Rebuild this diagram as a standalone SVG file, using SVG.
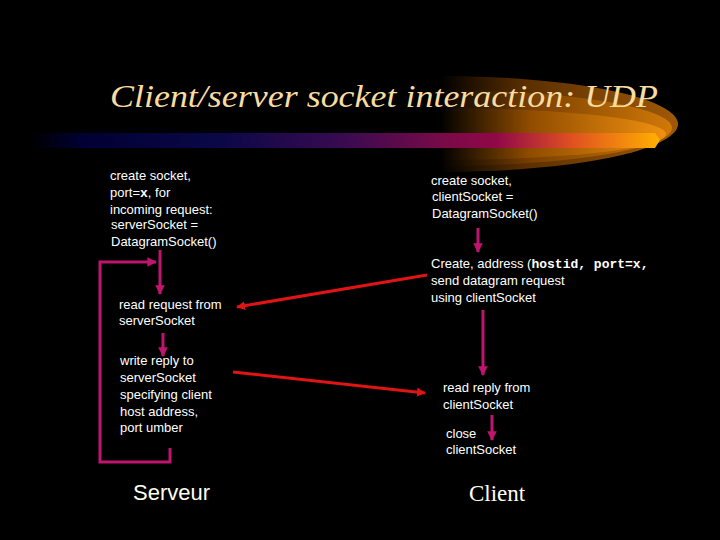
<svg xmlns="http://www.w3.org/2000/svg" width="720" height="540" viewBox="0 0 720 540">
<defs>
<linearGradient id="bar" x1="30" y1="0" x2="660" y2="0" gradientUnits="userSpaceOnUse">
<stop offset="0" stop-color="#000000"/>
<stop offset="0.08" stop-color="#000033"/>
<stop offset="0.3" stop-color="#0a0848"/>
<stop offset="0.5" stop-color="#3a0a50"/>
<stop offset="0.66" stop-color="#7a0a48"/>
<stop offset="0.74" stop-color="#900848"/>
<stop offset="0.86" stop-color="#e05020"/>
<stop offset="1" stop-color="#ffb000"/>
</linearGradient>
<linearGradient id="glow" x1="440" y1="0" x2="680" y2="0" gradientUnits="userSpaceOnUse">
<stop offset="0" stop-color="#000000"/>
<stop offset="0.35" stop-color="#5a2e00"/>
<stop offset="1" stop-color="#a05a08"/>
</linearGradient>
<linearGradient id="glow2" x1="440" y1="0" x2="670" y2="0" gradientUnits="userSpaceOnUse">
<stop offset="0" stop-color="#000000"/>
<stop offset="0.4" stop-color="#7a4000"/>
<stop offset="1" stop-color="#d07808"/>
</linearGradient>
<linearGradient id="glow3" x1="440" y1="0" x2="665" y2="0" gradientUnits="userSpaceOnUse">
<stop offset="0" stop-color="#000000"/>
<stop offset="0.4" stop-color="#904c00"/>
<stop offset="1" stop-color="#f09010"/>
</linearGradient>
<clipPath id="half"><rect x="440" y="0" width="280" height="540"/></clipPath>
<marker id="mh" viewBox="0 0 10 10" refX="9" refY="5" markerWidth="3.2" markerHeight="3.2" orient="auto" markerUnits="strokeWidth">
<path d="M0,0 L10,5 L0,10 z" fill="#c0156e"/>
</marker>
<marker id="rh" viewBox="0 0 10 10" refX="9" refY="5" markerWidth="3" markerHeight="3" orient="auto" markerUnits="strokeWidth">
<path d="M0,0 L10,5 L0,10 z" fill="#e01414"/>
</marker>
</defs>
<style>
.t{font-family:"Liberation Sans",Arial,sans-serif;font-size:13px;fill:#ffffff}
.c{font-family:"Liberation Mono","Courier New",monospace;font-weight:bold}
.m{fill:none;stroke:#c0156e;stroke-width:3}
.r{fill:none;stroke:#e01414;stroke-width:3}
</style>
<rect width="720" height="540" fill="#000000"/>
<g id="decor">
<g clip-path="url(#half)">
<ellipse cx="440" cy="124" rx="238" ry="48" fill="url(#glow)"/>
<ellipse cx="440" cy="128" rx="232" ry="38" fill="url(#glow2)"/>
<ellipse cx="440" cy="134" rx="226" ry="26" fill="url(#glow3)"/>
</g>
<path d="M30,133 L655,133 L660,140 L655,148 L30,148 z" fill="url(#bar)"/>
<text x="110" y="107" font-family="'Liberation Serif','Times New Roman',serif" font-style="italic" font-size="32" fill="#f8dca0" textLength="548" lengthAdjust="spacingAndGlyphs">Client/server socket interaction: UDP</text>
</g>
<g id="connectors">
<path class="m" d="M160,250 L160,294" marker-end="url(#mh)"/>
<path class="m" d="M170,448 L170,462 L100,462 L100,262 L156,262" marker-end="url(#mh)"/>
<path class="m" d="M163,333 L163,356" marker-end="url(#mh)"/>
<path class="m" d="M478,228 L478,252" marker-end="url(#mh)"/>
<path class="m" d="M483,310 L483,375" marker-end="url(#mh)"/>
<path class="m" d="M492,415 L492,440" marker-end="url(#mh)"/>
<path class="r" d="M427,275 L237,307" marker-end="url(#rh)"/>
<path class="r" d="M233,372 L425,393" marker-end="url(#rh)"/>
</g>
<g id="s-create">
<text class="t" x="110" y="180">create socket,</text>
<text class="t" x="110" y="197">port=<tspan class="c">x</tspan>, for</text>
<text class="t" x="110" y="214">incoming request:</text>
<text class="t" x="111" y="229">serverSocket =</text>
<text class="t" x="111" y="246">DatagramSocket()</text>
</g>
<g id="s-read">
<text class="t" x="119" y="309">read request from</text>
<text class="t" x="119" y="325">serverSocket</text>
</g>
<g id="s-write">
<text class="t" x="120" y="365">write reply to</text>
<text class="t" x="120" y="382">serverSocket</text>
<text class="t" x="120" y="399">specifying client</text>
<text class="t" x="120" y="416">host address,</text>
<text class="t" x="120" y="432">port umber</text>
</g>
<g id="s-label">
<text x="133" y="500" font-family="'Liberation Sans',Arial,sans-serif" font-size="22" fill="#fffff0">Serveur</text>
</g>
<g id="c-create">
<text class="t" x="431" y="185">create socket,</text>
<text class="t" x="432" y="201">clientSocket =</text>
<text class="t" x="432" y="218">DatagramSocket()</text>
</g>
<g id="c-send">
<text class="t" x="431" y="268">Create, address (<tspan class="c">hostid, port=x,</tspan></text>
<text class="t" x="431" y="285">send datagram request</text>
<text class="t" x="431" y="302">using clientSocket</text>
</g>
<g id="c-read">
<text class="t" x="443" y="392">read reply from</text>
<text class="t" x="443" y="409">clientSocket</text>
</g>
<g id="c-close">
<text class="t" x="446" y="438">close</text>
<text class="t" x="446" y="454">clientSocket</text>
</g>
<g id="c-label">
<text x="469" y="501" font-family="'Liberation Serif','Times New Roman',serif" font-size="23" fill="#fffff0">Client</text>
</g>
</svg>
